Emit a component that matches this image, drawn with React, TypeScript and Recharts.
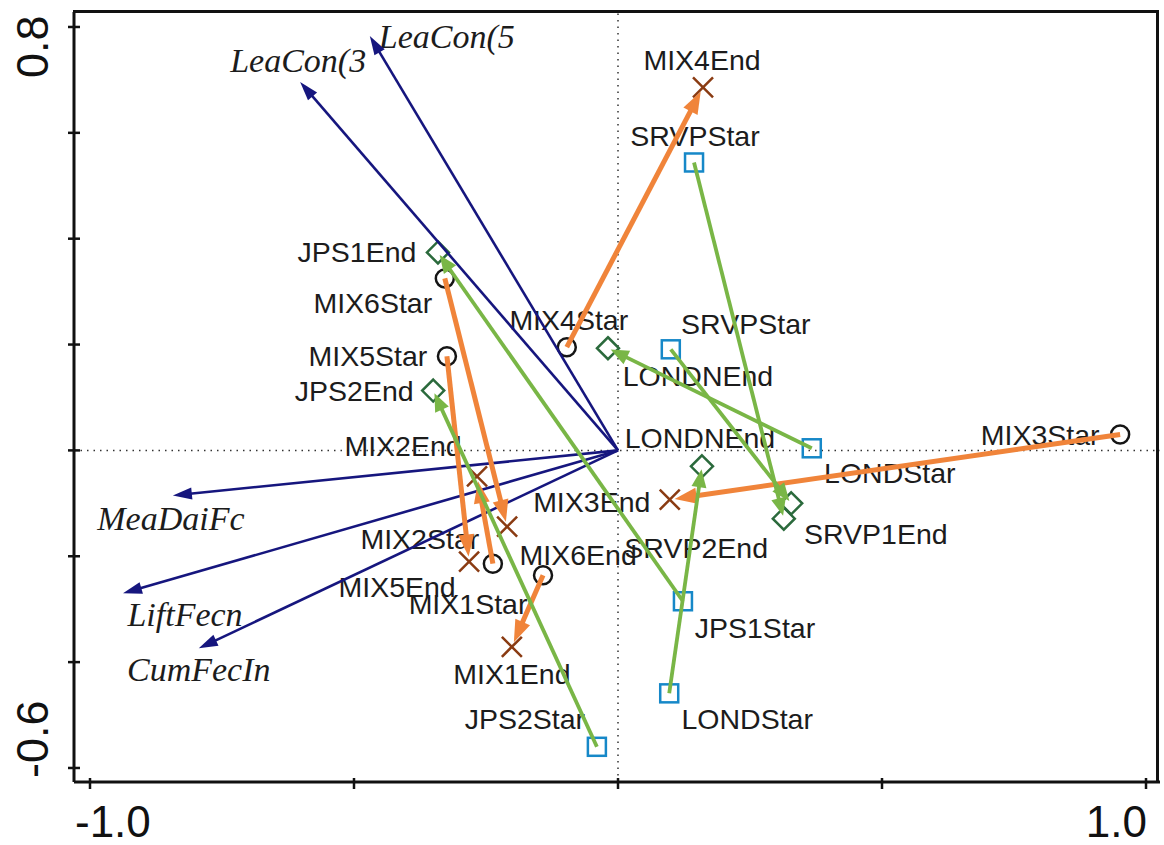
import { ReferenceLine, Scatter, ScatterChart, XAxis, YAxis } from "recharts";

const X_DOMAIN: [number, number] = [-1.0303, 1.0265];
const Y_DOMAIN: [number, number] = [-0.6265, 0.8283];

const xTicks = [-1, -0.5, 0, 0.5, 1];
const yTicks = [-0.6, -0.4, -0.2, 0, 0.2, 0.4, 0.6, 0.8];
const xTickLabels: Record<string, string> = { "-1": "-1.0", "1": "1.0" };
const yTickLabels: Record<string, string> = { "0.8": "0.8", "-0.6": "-0.6" };

const envVectors = [
  { id: "LeaCon5", label: "LeaCon(5", x: -0.47, y: 0.783 },
  { id: "LeaCon3", label: "LeaCon(3", x: -0.602, y: 0.696 },
  { id: "MeaDaiFc", label: "MeaDaiFc", x: -0.843, y: -0.085 },
  { id: "LiftFecn", label: "LiftFecn", x: -0.9375, y: -0.27 },
  { id: "CumFecIn", label: "CumFecIn", x: -0.794, y: -0.374 },
];

const mixStart = [
  { id: "MIX1Star", label: "MIX1Star", x: -0.142, y: -0.236 },
  { id: "MIX2Star", label: "MIX2Star", x: -0.237, y: -0.214 },
  { id: "MIX3Star", label: "MIX3Star", x: 0.951, y: 0.03 },
  { id: "MIX4Star", label: "MIX4Star", x: -0.097, y: 0.195 },
  { id: "MIX5Star", label: "MIX5Star", x: -0.324, y: 0.178 },
  { id: "MIX6Star", label: "MIX6Star", x: -0.328, y: 0.325 },
];

const mixEnd = [
  { id: "MIX1End", label: "MIX1End", x: -0.201, y: -0.371 },
  { id: "MIX2End", label: "MIX2End", x: -0.267, y: -0.049 },
  { id: "MIX3End", label: "MIX3End", x: 0.098, y: -0.093 },
  { id: "MIX4End", label: "MIX4End", x: 0.161, y: 0.686 },
  { id: "MIX5End", label: "MIX5End", x: -0.282, y: -0.21 },
  { id: "MIX6End", label: "MIX6End", x: -0.21, y: -0.144 },
];

const siteStart = [
  { id: "SRVP1Star", label: "SRVPStar", x: 0.144, y: 0.544 },
  { id: "SRVP2Star", label: "SRVPStar", x: 0.1, y: 0.191 },
  { id: "LOND1Star", label: "LONDStar", x: 0.367, y: 0.004 },
  { id: "JPS1Star", label: "JPS1Star", x: 0.123, y: -0.285 },
  { id: "LOND2Star", label: "LONDStar", x: 0.097, y: -0.459 },
  { id: "JPS2Star", label: "JPS2Star", x: -0.04, y: -0.56 },
];

const siteEnd = [
  { id: "SRVP1End", label: "SRVP1End", x: 0.314, y: -0.129 },
  { id: "SRVP2End", label: "SRVP2End", x: 0.328, y: -0.1 },
  { id: "LOND1End", label: "LONDNEnd", x: -0.019, y: 0.193 },
  { id: "JPS1End", label: "JPS1End", x: -0.341, y: 0.374 },
  { id: "LOND2End", label: "LONDNEnd", x: 0.159, y: -0.03 },
  { id: "JPS2End", label: "JPS2End", x: -0.35, y: 0.113 },
];

// label centre offsets from the point, in pixels
const LABEL_OFFSET: Record<string, [number, number]> = {
  MIX1Star: [-75, 29],
  MIX2Star: [-73, -25],
  MIX3Star: [-80, 0],
  MIX4Star: [2, -27],
  MIX5Star: [-79, 0],
  MIX6Star: [-72, 25],
  MIX1End: [0, 27],
  MIX2End: [-74, -30],
  MIX3End: [-78, 2],
  MIX4End: [-1, -27],
  MIX5End: [-72, 25],
  MIX6End: [71, 28],
  SRVP1Star: [1, -26],
  SRVP2Star: [75, -25],
  LOND1Star: [78, 25],
  JPS1Star: [72, 27],
  LOND2Star: [78, 26],
  JPS2Star: [-72, -28],
  SRVP1End: [92, 15],
  SRVP2End: [-95, 45],
  LOND1End: [90, 28],
  JPS1End: [-81, 0],
  LOND2End: [-2, -28],
  JPS2End: [-79, 0],
  LeaCon5: [77, 0],
  LeaCon3: [-2, -22],
  MeaDaiFc: [-2, 23],
  LiftFecn: [62, 21],
  CumFecIn: [0, 21],
};

const SANS = '"Liberation Sans", Arial, sans-serif';
const SERIF = '"Liberation Serif", "Times New Roman", serif';

function PointLabel({ cx, cy, payload, italic }: any) {
  const [dx, dy] = LABEL_OFFSET[payload.id] ?? [0, 0];
  return (
    <text
      x={cx + dx}
      y={cy + dy}
      dy="0.35em"
      textAnchor="middle"
      fontSize={italic ? 34 : 28.5}
      fontStyle={italic ? "italic" : "normal"}
      fontFamily={italic ? SERIF : SANS}
      fill="#1c1c1c"
    >
      {payload.label}
    </text>
  );
}

function CircleMark(props: any) {
  return (
    <g>
      <PointLabel {...props} />
      <circle cx={props.cx} cy={props.cy} r={9} fill="none" stroke="#151515" strokeWidth={2.5} />
    </g>
  );
}

function CrossMark(props: any) {
  const { cx, cy } = props;
  const s = 10;
  return (
    <g>
      <PointLabel {...props} />
      <path
        d={`M${cx - s},${cy - s}L${cx + s},${cy + s}M${cx - s},${cy + s}L${cx + s},${cy - s}`}
        stroke="#8a3b12"
        strokeWidth={2.5}
      />
    </g>
  );
}

function SquareMark(props: any) {
  const { cx, cy } = props;
  return (
    <g>
      <PointLabel {...props} />
      <rect x={cx - 9} y={cy - 9} width={18} height={18} fill="none" stroke="#1688c8" strokeWidth={2.5} />
    </g>
  );
}

function DiamondMark(props: any) {
  const { cx, cy } = props;
  const s = 11;
  return (
    <g>
      <PointLabel {...props} />
      <path
        d={`M${cx},${cy - s}L${cx + s},${cy}L${cx},${cy + s}L${cx - s},${cy}Z`}
        fill="none"
        stroke="#2b6a3c"
        strokeWidth={2.5}
      />
    </g>
  );
}

function EnvLabel(props: any) {
  return <PointLabel {...props} italic />;
}

const Empty = () => <g />;

function makeArrow(color: string, width: number, headLen: number, headHalf: number, gap: number) {
  return (props: any) => {
    const pts = props.points;
    if (!pts || pts.length < 2) return <g />;
    const { x: x0, y: y0 } = pts[0];
    const { x: x1, y: y1 } = pts[1];
    const len = Math.hypot(x1 - x0, y1 - y0) || 1;
    const ux = (x1 - x0) / len;
    const uy = (y1 - y0) / len;
    const tx = x1 - ux * gap;
    const ty = y1 - uy * gap;
    const bx = tx - ux * headLen;
    const by = ty - uy * headLen;
    return (
      <g>
        <line x1={x0} y1={y0} x2={bx + ux * 2} y2={by + uy * 2} stroke={color} strokeWidth={width} />
        <polygon
          points={`${tx},${ty} ${bx - uy * headHalf},${by + ux * headHalf} ${bx + uy * headHalf},${by - ux * headHalf}`}
          fill={color}
        />
      </g>
    );
  };
}

const navyArrow = makeArrow("#16167e", 2.6, 19, 6, 0);
const orangeArrow = makeArrow("#f0843a", 5, 22, 8, 5);
const greenArrow = makeArrow("#79b646", 3.8, 18, 7.5, 3);

function XTick({ x, y, payload }: any) {
  const label = xTickLabels[String(payload.value)];
  return (
    <g>
      <line x1={x} x2={x} y1={y - 4} y2={y + 7} stroke="#111" strokeWidth={2.5} />
      {label && (
        <text
          x={payload.value < 0 ? x - 15 : x + 1}
          y={y + 55}
          textAnchor={payload.value < 0 ? "start" : "end"}
          fontSize={44}
          fontFamily={SANS}
          fill="#111"
        >
          {label}
        </text>
      )}
    </g>
  );
}

function YTick({ x, y, payload }: any) {
  const label = yTickLabels[String(payload.value)];
  const ly = payload.value > 0 ? y + 51 : y + 10;
  return (
    <g>
      <line x1={x - 6} x2={x + 6} y1={y} y2={y} stroke="#111" strokeWidth={2.5} />
      {label && (
        <text
          x={48}
          y={ly}
          transform={`rotate(-90, 48, ${ly})`}
          textAnchor="start"
          fontSize={45}
          fontFamily={SANS}
          fill="#111"
        >
          {label}
        </text>
      )}
    </g>
  );
}

export default function App() {
  const origin = { id: "origin", label: "", x: 0, y: 0 };
  return (
    <div style={{ position: "relative", width: 1164, height: 845, background: "#fff" }}>
      <style>{"body{margin:0}"}</style>
      <ScatterChart width={1164} height={845} margin={{ top: 12, right: 4, bottom: 0, left: 0 }}>
        <XAxis
          type="number"
          dataKey="x"
          domain={X_DOMAIN}
          ticks={xTicks}
          interval={0}
          allowDataOverflow
          tick={(p: any) => <XTick {...p} />}
          tickLine={false}
          tickSize={0}
          tickMargin={0}
          axisLine={{ stroke: "#111", strokeWidth: 3 }}
          height={63}
        />
        <YAxis
          type="number"
          dataKey="y"
          domain={Y_DOMAIN}
          ticks={yTicks}
          interval={0}
          allowDataOverflow
          tick={(p: any) => <YTick {...p} />}
          tickLine={false}
          tickSize={0}
          tickMargin={0}
          axisLine={{ stroke: "#111", strokeWidth: 3 }}
          width={74}
        />
        <ReferenceLine x={0} stroke="#333" strokeWidth={1.5} strokeDasharray="1.5 5" />
        <ReferenceLine y={0} stroke="#333" strokeWidth={1.5} strokeDasharray="1.5 5" />

        <Scatter data={mixStart} shape={CircleMark} isAnimationActive={false} />
        <Scatter data={mixEnd} shape={CrossMark} isAnimationActive={false} />
        <Scatter data={siteStart} shape={SquareMark} isAnimationActive={false} />
        <Scatter data={siteEnd} shape={DiamondMark} isAnimationActive={false} />
        <Scatter data={envVectors} shape={EnvLabel} isAnimationActive={false} />

        {envVectors.map((v) => (
          <Scatter
            key={v.id}
            data={[origin, v]}
            line={navyArrow}
            shape={Empty}
            isAnimationActive={false}
          />
        ))}
        {mixStart.map((s, i) => (
          <Scatter
            key={s.id}
            data={[s, mixEnd[i]]}
            line={orangeArrow}
            shape={Empty}
            isAnimationActive={false}
          />
        ))}
        {siteStart.map((s, i) => (
          <Scatter
            key={s.id}
            data={[s, siteEnd[i]]}
            line={greenArrow}
            shape={Empty}
            isAnimationActive={false}
          />
        ))}
      </ScatterChart>
      <div
        style={{
          position: "absolute",
          left: 73,
          top: 10,
          width: 1086,
          height: 771,
          borderTop: "3px solid #111",
          borderRight: "3px solid #111",
          boxSizing: "border-box",
          pointerEvents: "none",
        }}
      />
    </div>
  );
}
